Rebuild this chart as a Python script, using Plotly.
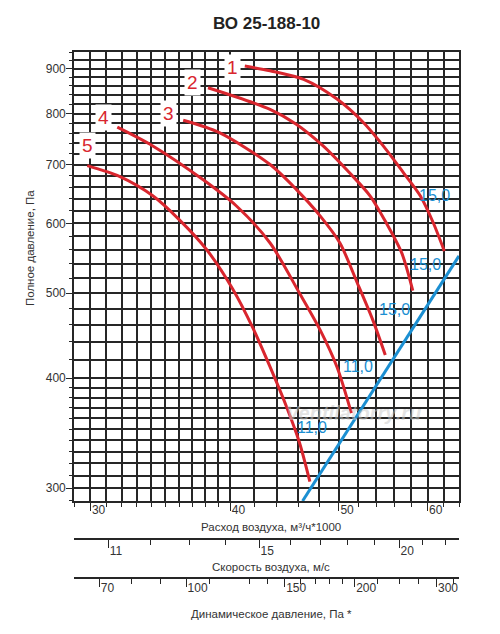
import math
import plotly.graph_objects as go

# ---------------- data ----------------
title_text = "ВО 25-188-10"

# fan curves: air flow (m3/h*1000) vs total pressure (Pa)
q1 = [41.2, 43.4, 46.5, 49.8, 52.6, 55.1, 57.1, 59.1, 60.7, 62.1]
p1 = [906, 895, 875, 831, 781, 728, 685, 645, 601, 558]
q2 = [38.2, 43.4, 45.8, 48.4, 51.1, 53.3, 55.1, 56.9, 58.2]
p2 = [856, 809, 778, 735, 685, 645, 601, 555, 503]
q3 = [36.3, 39.1, 43.4, 45.8, 48.1, 50.1, 51.9, 53.6, 55.0]
p3 = [786, 761, 700, 656, 612, 570, 514, 466, 425]
q4 = [31.7, 34.1, 37.8, 40.5, 43.4, 46.1, 48.1, 49.8, 51.3]
p4 = [772, 735, 673, 628, 570, 500, 454, 412, 365]
q5 = [29.8, 31.8, 34.1, 36.0, 38.1, 40.2, 41.9, 43.4, 44.9, 46.1, 47.1]
p5 = [698, 679, 645, 606, 560, 505, 456, 412, 371, 338, 305]
curve_names = ["1", "2", "3", "4", "5"]

# system line
q_sys = [46.4, 64.0]
p_sys = [290, 551]

# curve number labels (flow, pressure)
num_q = [40.2, 37.0, 35.2, 30.8, 29.8]
num_p = [902, 868, 801, 792, 735]

# blue speed labels
spd_text = ["15,0", "15,0", "15,0", "11,0", "11,0"]
spd_q = [60.9, 59.7, 56.1, 52.0, 47.3]
spd_p = [645, 539, 479, 412, 352]

# axes
q_range = [29, 64]
p_range = [290, 940]
q_major = [30, 40, 50, 60]
q_minor = [29, 31, 32, 33, 34, 35, 36, 37, 38, 39, 42, 44, 46, 48, 52, 54, 56, 58, 62, 64]
p_major = [300, 400, 500, 600, 700, 800, 900]
p_minor = [290, 310, 320, 330, 340, 350, 360, 370, 380, 390,
           420, 440, 460, 480, 520, 540, 560, 580, 620, 640, 660, 680,
           720, 740, 760, 780, 820, 840, 860, 880, 920, 940]

vel_per_flow = 0.3535          # m/s per 1000 m3/h
dyn_coef = 0.6                 # Pa per (m/s)^2
v_major = [11, 15, 20]
v_minor = [12, 13, 14, 16, 17, 18, 19, 21, 22]
d_major = [70, 100, 150, 200, 280]
d_major_text = ["70", "100", "150", "200", "300"]
d_minor = [80, 90, 110, 130, 140, 160, 170, 180, 190, 220, 240, 260, 300]

# ---------------- style ----------------
FONT = "Liberation Sans, Arial, sans-serif"
RED = "#d9262e"
BLUE = "#1b8fd2"
GRID = "#262626"
TXT = "#333333"

fig = go.Figure()
for q, p, n in zip([q1, q2, q3, q4, q5], [p1, p2, p3, p4, p5], curve_names):
    fig.add_trace(go.Scatter(x=q, y=p, mode="lines", name=n,
                             line=dict(color=RED, width=3, shape="spline", smoothing=0.8),
                             hoverinfo="skip"))
fig.add_trace(go.Scatter(x=q_sys, y=p_sys, mode="lines",
                         line=dict(color=BLUE, width=3), hoverinfo="skip"))

# dummy traces so the extra axes get drawn
v_lo, v_hi = q_range[0] * vel_per_flow, q_range[1] * vel_per_flow
d_lo, d_hi = dyn_coef * v_lo ** 2, dyn_coef * v_hi ** 2
fig.add_trace(go.Scatter(x=[v_lo, v_hi], y=[p_range[0], p_range[0]], xaxis="x2", yaxis="y",
                         mode="markers", marker=dict(opacity=0), hoverinfo="skip"))
fig.add_trace(go.Scatter(x=[d_lo, d_hi], y=[p_range[0], p_range[0]], xaxis="x3", yaxis="y",
                         mode="markers", marker=dict(opacity=0), hoverinfo="skip"))

annotations = []
for q, p, t in zip(num_q, num_p, curve_names):
    annotations.append(dict(x=math.log10(q), y=math.log10(p), xref="x", yref="y", text=t,
                            showarrow=False, bgcolor="white", borderpad=2,
                            xanchor="center", yanchor="middle",
                            font=dict(family=FONT, size=19, color=RED)))
for q, p, t in zip(spd_q, spd_p, spd_text):
    annotations.append(dict(x=math.log10(q), y=math.log10(p), xref="x", yref="y", text=t,
                            showarrow=False, xanchor="center", yanchor="middle",
                            font=dict(family=FONT, size=16, color=BLUE)))
annotations.append(dict(x=math.log10(51.5), y=math.log10(365), xref="x", yref="y",
                        text="<b><i>Ventilatorry.ru</i></b>", showarrow=False,
                        xanchor="center", yanchor="middle",
                        font=dict(family=FONT, size=20, color="rgba(200,200,200,0.5)")))


def paper_text(x, y, text, size, color=TXT, angle=0):
    return dict(x=x, y=y, xref="paper", yref="paper", text=text, textangle=angle,
                showarrow=False, xanchor="center", yanchor="middle",
                font=dict(family=FONT, size=size, color=color))


annotations += [
    paper_text(0.5, 1.0488, "<b>" + title_text + "</b>", 17, "#222"),
    paper_text(-0.1143, 0.6585, "Полное давление, Па", 11.5, angle=-90),
    paper_text(0.5117, 0.1725, "Расход воздуха, м³/ч*1000", 11.5),
    paper_text(0.5117, 0.1028, "Скорость воздуха, м/с", 11.5),
    paper_text(0.5117, 0.0209, "Динамическое давление, Па *", 11.5),
]

tickfont = dict(family=FONT, size=12, color=TXT)

fig.update_layout(
    template="none",
    width=492, height=618,
    margin=dict(l=66, r=41, t=44, b=0, autoexpand=False),
    paper_bgcolor="white", plot_bgcolor="white",
    showlegend=False,
    font=dict(family=FONT, size=12, color=TXT),
    annotations=annotations,
    xaxis=dict(type="log", range=[math.log10(q_range[0]), math.log10(q_range[1])],
               domain=[0, 1], anchor="y", automargin=False,
               tickmode="array", tickvals=q_major, ticktext=[str(v) for v in q_major],
               ticks="outside", ticklen=8, tickwidth=1.3, tickcolor=GRID,
               ticklabelposition="outside right", ticklabelstandoff=-3,
               tickfont=tickfont,
               showgrid=True, gridcolor=GRID, gridwidth=1.6,
               showline=True, linecolor=GRID, linewidth=1.6, mirror=True,
               zeroline=False,
               minor=dict(tickmode="array", tickvals=q_minor, ticks="outside", ticklen=4,
                          tickcolor=GRID, tickwidth=1.3,
                          showgrid=True, gridcolor=GRID, gridwidth=1.6)),
    yaxis=dict(type="log", range=[math.log10(p_range[0]), math.log10(p_range[1])],
               domain=[0.2178, 1], anchor="x", automargin=False,
               tickmode="array", tickvals=p_major, ticktext=[str(v) for v in p_major],
               ticks="outside", ticklen=6, tickwidth=1.3, tickcolor=GRID,
               ticklabelstandoff=-2,
               tickfont=tickfont,
               showgrid=True, gridcolor=GRID, gridwidth=1.6,
               showline=True, linecolor=GRID, linewidth=1.6, mirror=True,
               zeroline=False,
               minor=dict(tickmode="array", tickvals=p_minor, ticks="outside", ticklen=3,
                          tickcolor=GRID, tickwidth=1.3,
                          showgrid=True, gridcolor=GRID, gridwidth=1.6)),
    xaxis2=dict(type="log", range=[math.log10(v_lo), math.log10(v_hi)],
                overlaying="x", anchor="free", position=0.1510, side="bottom",
                automargin=False,
                tickmode="array", tickvals=v_major, ticktext=[str(v) for v in v_major],
                ticks="outside", ticklen=8, tickwidth=1.3, tickcolor=GRID,
                ticklabelposition="outside right", ticklabelstandoff=0,
                tickfont=tickfont, showgrid=False,
                showline=True, linecolor=GRID, linewidth=1.6, zeroline=False,
                minor=dict(tickmode="array", tickvals=v_minor, ticks="outside", ticklen=5,
                           tickcolor=GRID, tickwidth=1.3, showgrid=False)),
    xaxis3=dict(type="log", range=[math.log10(d_lo), math.log10(d_hi)],
                overlaying="x", anchor="free", position=0.0831, side="bottom",
                automargin=False,
                tickmode="array", tickvals=d_major, ticktext=d_major_text,
                ticks="outside", ticklen=8, tickwidth=1.3, tickcolor=GRID,
                ticklabelposition="outside right", ticklabelstandoff=-2,
                tickfont=tickfont, showgrid=False,
                showline=True, linecolor=GRID, linewidth=1.6, zeroline=False,
                minor=dict(tickmode="array", tickvals=d_minor, ticks="outside", ticklen=5,
                           tickcolor=GRID, tickwidth=1.3, showgrid=False)),
)

fig.write_html("out.html")
